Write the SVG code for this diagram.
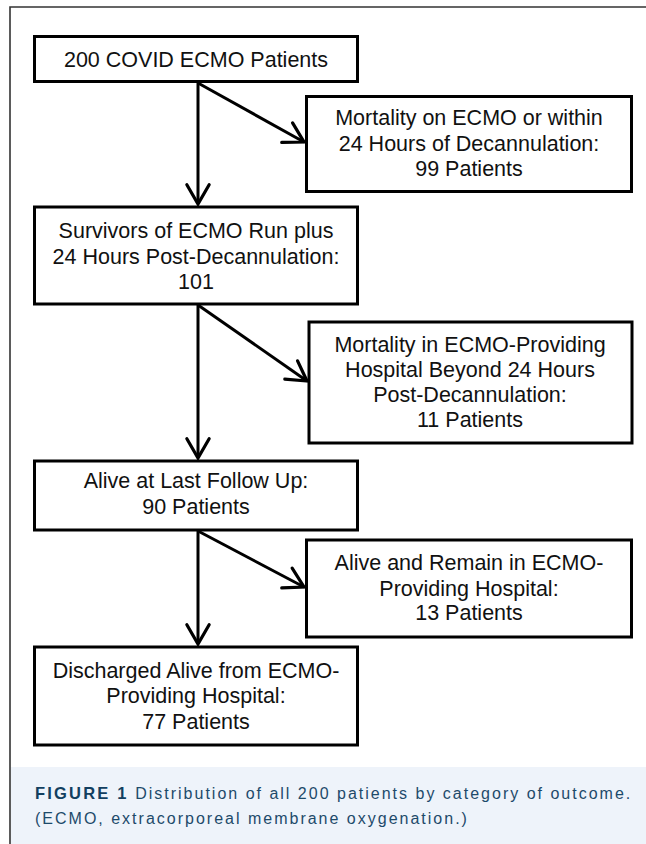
<svg xmlns="http://www.w3.org/2000/svg" width="646" height="844" viewBox="0 0 646 844">
  <defs>
    <marker id="arr" markerUnits="userSpaceOnUse" markerWidth="30" markerHeight="30" viewBox="-22 -14 26 28" refX="0" refY="0" orient="auto">
      <path d="M-18,-10.4 L0,0 L-18,10.4" fill="none" stroke="#000" stroke-width="3" stroke-linecap="round" stroke-linejoin="miter"/>
    </marker>
  </defs>
  <style>
    .box { fill: #fff; stroke: #000; stroke-width: 3; }
    .t { font-family: "Liberation Sans", Arial, sans-serif; font-size: 21.5px; fill: #111; text-anchor: middle; }
    .conn { stroke: #000; stroke-width: 3; fill: none; marker-end: url(#arr); }
    .cap { font-family: "Liberation Sans", Arial, sans-serif; font-size: 16px; fill: #1d4a6a; letter-spacing: 2px; }
    .capb { font-weight: bold; font-size: 16.5px; letter-spacing: 2.2px; fill: #123f60; }
  </style>
  <rect x="0" y="0" width="646" height="844" fill="#fff"/>
  <!-- frame -->
  <path d="M10,844 L10,7 L646,7" fill="none" stroke="#333" stroke-width="1.6"/>
  <!-- caption band -->
  <rect x="11" y="767" width="635" height="77" fill="#eef3fa"/>
  <text class="cap" x="35" y="799"><tspan class="capb">FIGURE 1</tspan> Distribution of all 200 patients by category of outcome.</text>
  <text class="cap" x="35" y="824">(ECMO, extracorporeal membrane oxygenation.)</text>

  <g id="connectors">
    <line class="conn" x1="198" y1="83" x2="198" y2="204"/>
    <line class="conn" x1="198" y1="83" x2="304" y2="142"/>
    <line class="conn" x1="198" y1="305" x2="198" y2="458"/>
    <line class="conn" x1="198" y1="305" x2="307" y2="381"/>
    <line class="conn" x1="198" y1="531" x2="198" y2="644"/>
    <line class="conn" x1="198" y1="531" x2="304" y2="587"/>
  </g>

  <g id="n1">
    <rect class="box" x="34.5" y="36.5" width="323" height="45"/>
    <text class="t" x="196" y="66.5">200 COVID ECMO Patients</text>
  </g>
  <g id="n2">
    <rect class="box" x="306.5" y="96.5" width="325" height="95"/>
    <text class="t" x="469" y="125">Mortality on ECMO or within</text>
    <text class="t" x="469" y="151">24 Hours of Decannulation:</text>
    <text class="t" x="469" y="176">99 Patients</text>
  </g>
  <g id="n3">
    <rect class="box" x="34.5" y="207" width="323" height="97"/>
    <text class="t" x="196" y="238">Survivors of ECMO Run plus</text>
    <text class="t" x="196" y="264">24 Hours Post-Decannulation:</text>
    <text class="t" x="196" y="289">101</text>
  </g>
  <g id="n4">
    <rect class="box" x="309" y="322" width="323" height="121"/>
    <text class="t" x="470" y="352">Mortality in ECMO-Providing</text>
    <text class="t" x="470" y="377">Hospital Beyond 24 Hours</text>
    <text class="t" x="470" y="402">Post-Decannulation:</text>
    <text class="t" x="470" y="427">11 Patients</text>
  </g>
  <g id="n5">
    <rect class="box" x="34.5" y="461" width="323" height="69"/>
    <text class="t" x="196" y="488">Alive at Last Follow Up:</text>
    <text class="t" x="196" y="514">90 Patients</text>
  </g>
  <g id="n6">
    <rect class="box" x="306.5" y="540" width="325" height="97"/>
    <text class="t" x="469" y="570">Alive and Remain in ECMO-</text>
    <text class="t" x="469" y="596">Providing Hospital:</text>
    <text class="t" x="469" y="620">13 Patients</text>
  </g>
  <g id="n7">
    <rect class="box" x="34.5" y="647" width="323" height="98"/>
    <text class="t" x="196" y="678">Discharged Alive from ECMO-</text>
    <text class="t" x="196" y="703">Providing Hospital:</text>
    <text class="t" x="196" y="729">77 Patients</text>
  </g>
</svg>
